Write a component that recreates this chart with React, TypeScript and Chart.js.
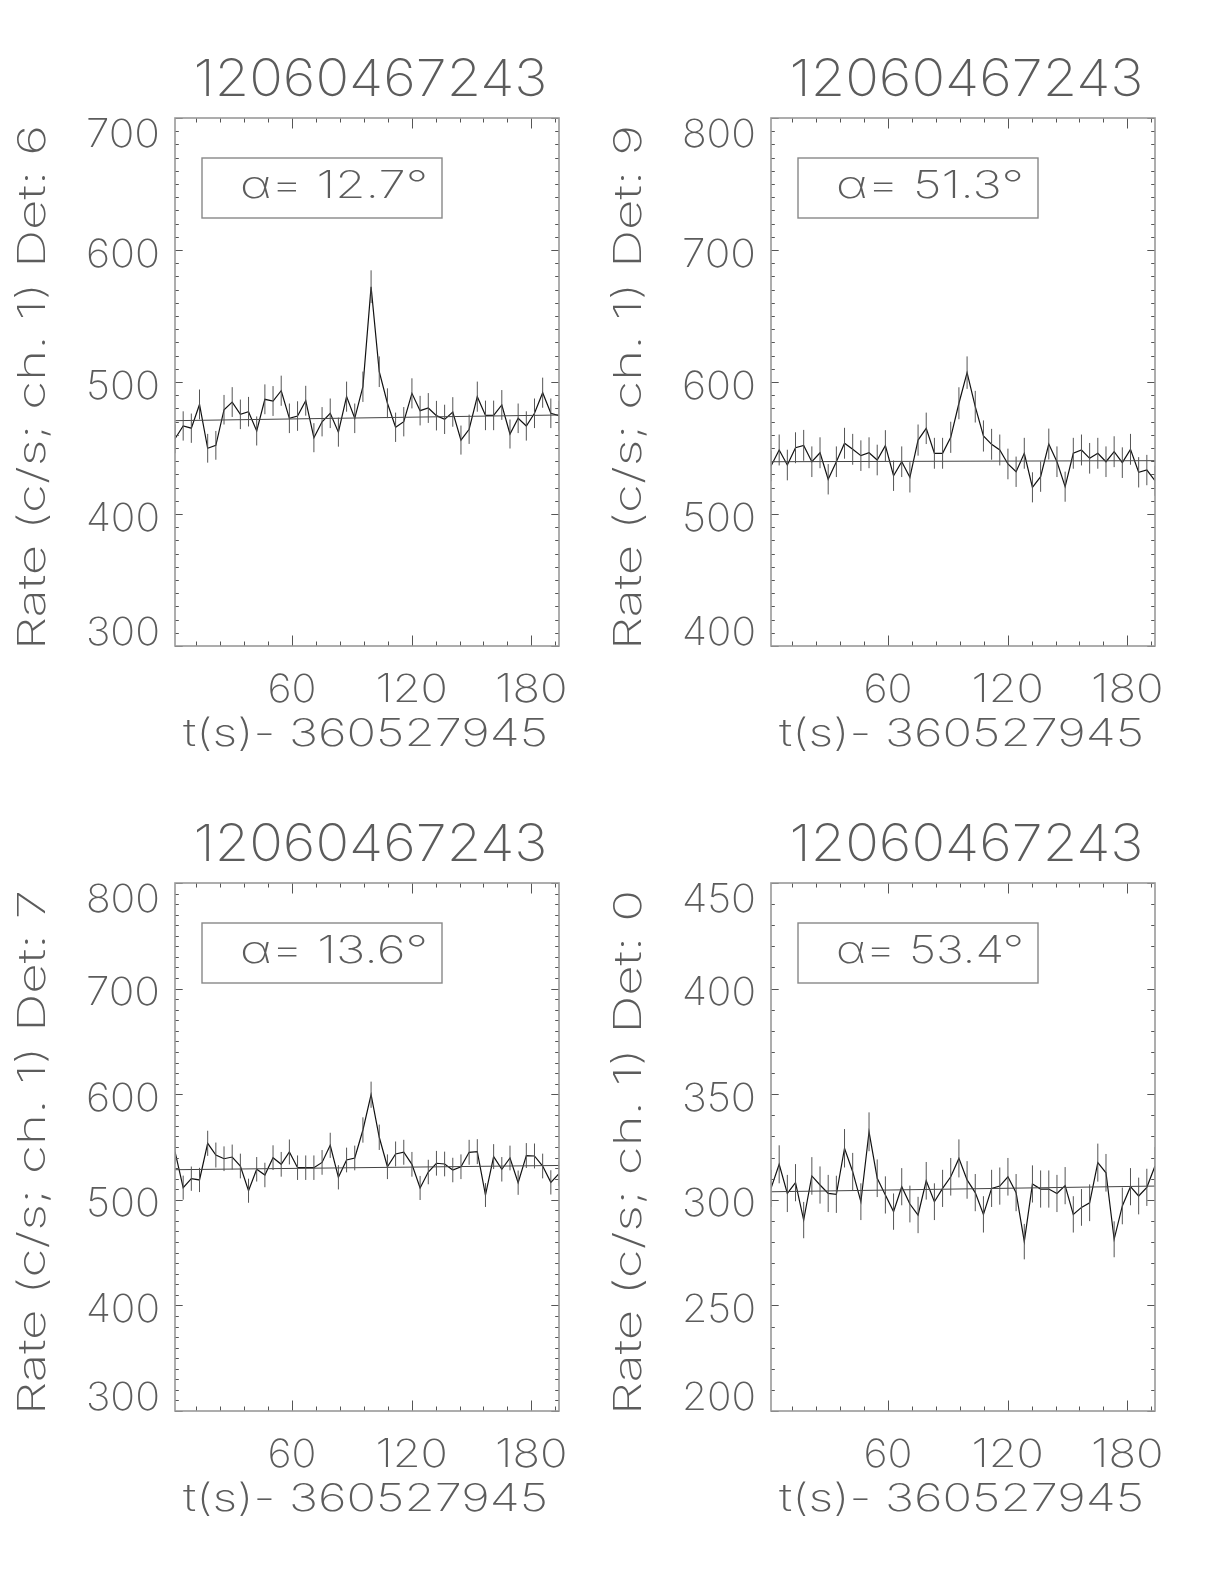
import React, { useEffect, useRef } from "react";
import { Chart, registerables } from "chart.js";

Chart.register(...registerables);

// ---------------- data ----------------
const TIMES = [
  1.35, 5.45, 9.54, 13.64, 17.73, 21.83, 25.93, 30.02, 34.12, 38.21, 42.31, 46.41,
  50.5, 54.6, 58.69, 62.79, 66.89, 70.98, 75.08, 79.17, 83.27, 87.37, 91.46, 95.56,
  99.65, 103.75, 107.85, 111.94, 116.04, 120.13, 124.23, 128.33, 132.42, 136.52, 140.61, 144.71,
  148.81, 152.9, 157.0, 161.09, 165.19, 169.29, 173.38, 177.48, 181.57, 185.67, 189.77, 193.86,
];
const TITLE = "12060467243";
const X_TITLE = "t(s)- 360527945";
const X_TICK_LABELS = [60, 120, 180];
const X_MINOR = 12;

const DET6_RATE = [
  457, 466.7, 465, 483, 449.8, 452, 479, 484.8, 475.5, 477.5, 462.9, 486.9,
  485.6, 493.4, 472.5, 474.2, 485.8, 457.8, 469.9, 476.3, 462, 488.9, 472.5, 496.4,
  572.2, 507.8, 483.9, 465.7, 469.9, 491.4, 478.3, 480.3, 474.5, 471.7, 477.3, 456,
  464.2, 488.9, 474.7, 474.7, 482.6, 460.6, 472.5, 466.7, 476.3, 491.9, 476.3, 474.5,
];
const DET6_ERR = [
  11.0, 11.1, 11.1, 11.3, 10.9, 10.9, 11.2, 11.3, 11.2, 11.2, 11.0, 11.3,
  11.3, 11.4, 11.2, 11.2, 11.3, 11.0, 11.1, 11.2, 11.0, 11.4, 11.2, 11.5,
  12.4, 11.6, 11.3, 11.1, 11.1, 11.4, 11.2, 11.3, 11.2, 11.1, 11.2, 11.0,
  11.1, 11.4, 11.2, 11.2, 11.3, 11.0, 11.2, 11.1, 11.2, 11.4, 11.2, 11.2,
];
const DET6_BG = [470.7, 475.0];
const DET6_Y_TICKS = [300, 400, 500, 600, 700];
const DET6_ALPHA = "\u03b1= 12.7\u00b0";
const DET6_Y_TITLE = "Rate (c/s; ch. 1) Det: 6";

const DET9_RATE = [
  536.4, 548.5, 537.1, 550.2, 552, 539.6, 546.4, 526.3, 539.6, 553.6, 549, 544.2,
  546.4, 540.9, 551.8, 529, 539.6, 527.8, 556, 564.9, 546, 546, 558.1, 583.9,
  607.1, 581.3, 559.1, 552.8, 548.5, 537.9, 532, 546, 520.2, 528.3, 553, 539.6,
  520.7, 546, 548.5, 542.2, 546, 539.6, 547.2, 538.9, 549, 531.6, 533.3, 525.2,
];
const DET9_ERR = [
  11.6, 11.7, 11.6, 11.7, 11.7, 11.6, 11.7, 11.5, 11.6, 11.7, 11.7, 11.6,
  11.7, 11.6, 11.7, 11.5, 11.6, 11.5, 11.8, 11.9, 11.7, 11.7, 11.8, 12.1,
  12.3, 12.0, 11.8, 11.7, 11.7, 11.6, 11.5, 11.7, 11.4, 11.5, 11.7, 11.6,
  11.4, 11.7, 11.7, 11.6, 11.7, 11.6, 11.7, 11.6, 11.7, 11.5, 11.5, 11.4,
];
const DET9_BG = [539.6, 540.4];
const DET9_Y_TICKS = [400, 500, 600, 700, 800];
const DET9_ALPHA = "\u03b1= 51.3\u00b0";
const DET9_Y_TITLE = "Rate (c/s; ch. 1) Det: 9";

const DET7_RATE = [
  545.6, 511.5, 520, 518.8, 553.5, 542.4, 538.9, 540.5, 532, 508.6, 528.9, 523.5,
  539.9, 533.6, 545.3, 530.4, 530.4, 530.4, 535.4, 551.6, 521.3, 537.7, 539.6, 566.1,
  599.5, 559.2, 531.3, 543.4, 545, 533.6, 511.2, 526.3, 534.6, 533.9, 528.2, 531.3,
  545, 545.6, 504.5, 540.9, 528.9, 539.6, 516.2, 541.9, 541.5, 532, 516.5, 524.7,
];
const DET7_ERR = [
  11.8, 11.4, 11.5, 11.5, 11.9, 11.8, 11.7, 11.8, 11.7, 11.4, 11.6, 11.6,
  11.7, 11.7, 11.8, 11.6, 11.6, 11.6, 11.7, 11.9, 11.5, 11.7, 11.7, 12.0,
  12.4, 12.0, 11.7, 11.8, 11.8, 11.7, 11.4, 11.6, 11.7, 11.7, 11.6, 11.7,
  11.8, 11.8, 11.3, 11.8, 11.6, 11.7, 11.5, 11.8, 11.8, 11.7, 11.5, 11.6,
];
const DET7_BG = [528.5, 532.5];
const DET7_Y_TICKS = [300, 400, 500, 600, 700, 800];
const DET7_ALPHA = "\u03b1= 13.6\u00b0";
const DET7_Y_TITLE = "Rate (c/s; ch. 1) Det: 7";

const DET0_RATE = [
  305.4, 316.8, 303, 308.1, 290.4, 311.3, 307, 303, 302.6, 324.4, 313.3, 299.1,
  332.2, 310.2, 302.3, 294.4, 306.2, 298, 292.8, 309, 299.1, 305.4, 310.9, 319.6,
  309.4, 303.4, 293.1, 305.4, 306.5, 310.9, 303.4, 280.2, 307.5, 305.1, 305.1, 303,
  306.7, 293.1, 296.4, 298.6, 317.6, 312.8, 281.3, 297.1, 306.2, 301.8, 305.9, 316,
];
const DET0_ERR = [
  8.8, 9.0, 8.8, 8.8, 8.6, 8.9, 8.8, 8.8, 8.8, 9.1, 8.9, 8.7,
  9.2, 8.9, 8.8, 8.6, 8.8, 8.7, 8.6, 8.9, 8.7, 8.8, 8.9, 9.0,
  8.9, 8.8, 8.6, 8.8, 8.8, 8.9, 8.8, 8.4, 8.8, 8.8, 8.8, 8.8,
  8.8, 8.6, 8.7, 8.7, 9.0, 8.9, 8.5, 8.7, 8.8, 8.7, 8.8, 9.0,
];
const DET0_BG = [303.8, 306.5];
const DET0_Y_TICKS = [200, 250, 300, 350, 400, 450];
const DET0_ALPHA = "\u03b1= 53.4\u00b0";
const DET0_Y_TITLE = "Rate (c/s; ch. 1) Det: 0";

// ---------------- layout / style ----------------
const FONT = '"Inter", "Noto Sans", "DejaVu Sans", sans-serif';
const FONT_WEIGHT = 200;
const TEXT_COLOR = "#5c5c5c";
const PLOT_LEFT = 175;
const PLOT_RIGHT = 559;
const PLOT_TOP = 118;
const PLOT_BOTTOM = 646;

type PanelCfg = {
  rate: number[];
  err: number[];
  bg: number[];
  yTicks: number[];
  yMinor: number;
  alpha: string;
  yTitle: string;
  left: number;
  top: number;
  w: number;
  h: number;
};

const PANELS: PanelCfg[] = [
  { rate: DET6_RATE, err: DET6_ERR, bg: DET6_BG, yTicks: DET6_Y_TICKS, yMinor: 10, alpha: DET6_ALPHA, yTitle: DET6_Y_TITLE, left: 0, top: 0, w: 596, h: 765 },
  { rate: DET9_RATE, err: DET9_ERR, bg: DET9_BG, yTicks: DET9_Y_TICKS, yMinor: 10, alpha: DET9_ALPHA, yTitle: DET9_Y_TITLE, left: 596, top: 0, w: 628, h: 765 },
  { rate: DET7_RATE, err: DET7_ERR, bg: DET7_BG, yTicks: DET7_Y_TICKS, yMinor: 10, alpha: DET7_ALPHA, yTitle: DET7_Y_TITLE, left: 0, top: 765, w: 596, h: 819 },
  { rate: DET0_RATE, err: DET0_ERR, bg: DET0_BG, yTicks: DET0_Y_TICKS, yMinor: 10, alpha: DET0_ALPHA, yTitle: DET0_Y_TITLE, left: 596, top: 765, w: 628, h: 819 },
];

function drawText(
  ctx: CanvasRenderingContext2D,
  s: string,
  x: number,
  baseline: number,
  size: number,
  targetW: number | null,
  align: "left" | "center" | "right"
) {
  ctx.save();
  ctx.font = `${FONT_WEIGHT} ${size}px ${FONT}`;
  ctx.fillStyle = TEXT_COLOR;
  ctx.textAlign = "left";
  ctx.textBaseline = "alphabetic";
  const w = ctx.measureText(s).width;
  const sx = targetW ? targetW / w : 1;
  const W = w * sx;
  const left = align === "left" ? x : align === "center" ? x - W / 2 : x - W;
  ctx.translate(left, baseline);
  ctx.scale(sx, 1);
  ctx.fillText(s, 0, 0);
  ctx.restore();
}

const idlPlugin = {
  id: "idlFrame",
  afterDraw(chart: any, _args: any, opts: any) {
    const ctx: CanvasRenderingContext2D = chart.ctx;
    const ca = chart.chartArea;
    const xs = chart.scales.x;
    const ys = chart.scales.y;
    ctx.save();

    // ticks on all four sides, pointing inward
    ctx.strokeStyle = "#555";
    ctx.lineWidth = 1;
    ctx.beginPath();
    const xMajor = X_TICK_LABELS[1] - X_TICK_LABELS[0];
    for (let v = Math.ceil(xs.min / X_MINOR) * X_MINOR; v <= xs.max; v += X_MINOR) {
      const px = Math.round(xs.getPixelForValue(v)) + 0.5;
      const len = v % xMajor === 0 ? 10.5 : 4.5;
      ctx.moveTo(px, ca.bottom);
      ctx.lineTo(px, ca.bottom - len);
      ctx.moveTo(px, ca.top);
      ctx.lineTo(px, ca.top + len);
    }
    const yTicks: number[] = opts.yTicks;
    for (let v = ys.min; v <= ys.max + 1e-6; v += opts.yMinor) {
      const py = Math.round(ys.getPixelForValue(v)) + 0.5;
      const major = yTicks.some((t) => Math.abs(t - v) < 1e-6);
      const len = major ? 7.7 : 3.8;
      ctx.moveTo(ca.left, py);
      ctx.lineTo(ca.left + len, py);
      ctx.moveTo(ca.right, py);
      ctx.lineTo(ca.right - len, py);
    }
    ctx.stroke();

    // frame
    ctx.strokeStyle = "#999";
    ctx.lineWidth = 1.6;
    ctx.strokeRect(ca.left, ca.top, ca.right - ca.left, ca.bottom - ca.top);

    // x tick labels
    for (const v of X_TICK_LABELS) {
      const s = String(v);
      const px = xs.getPixelForValue(v);
      drawText(ctx, s, px, ca.bottom + 56, 39, s.length * 23.5 + 2, "center");
    }
    // y tick labels (IDL style: end labels kept inside the axis extent)
    for (const v of yTicks) {
      const s = String(v);
      const py = ys.getPixelForValue(v);
      let c = py + 2.5;
      c = Math.max(c, ca.top + 15);
      c = Math.min(c, ca.bottom - 15);
      drawText(ctx, s, ca.left - 15, c + 14, 39, s.length * 24.7, "right");
    }

    // title
    drawText(ctx, TITLE, (ca.left + ca.right) / 2 + 3.5, ca.top - 22, 51, 354, "center");
    // x axis title
    drawText(ctx, X_TITLE, ca.left + 8, ca.bottom + 100, 38, 365, "left");
    // y axis title, rotated
    ctx.save();
    ctx.translate(ca.left - 130, (ca.top + ca.bottom) / 2 + 5.5);
    ctx.rotate(-Math.PI / 2);
    drawText(ctx, opts.yTitle, 0, 0, 38, 525, "center");
    ctx.restore();

    // alpha box
    ctx.strokeStyle = "#888";
    ctx.lineWidth = 1.4;
    ctx.strokeRect(ca.left + 27, ca.top + 40, 240, 60);
    drawText(ctx, opts.alpha, ca.left + 65, ca.top + 80, 38, 188, "left");

    ctx.restore();
  },
};

function Panel({ cfg }: { cfg: PanelCfg }) {
  const ref = useRef<HTMLCanvasElement>(null);
  useEffect(() => {
    const canvas = ref.current;
    if (!canvas) return;
    const pts = TIMES.map((t, i) => ({ x: t, y: cfg.rate[i] }));
    const errPts: { x: number; y: number | null }[] = [];
    TIMES.forEach((t, i) => {
      errPts.push({ x: t, y: cfg.rate[i] - cfg.err[i] });
      errPts.push({ x: t, y: cfg.rate[i] + cfg.err[i] });
      errPts.push({ x: t, y: null });
    });
    const bgPts = [
      { x: TIMES[0], y: cfg.bg[0] },
      { x: TIMES[TIMES.length - 1], y: cfg.bg[1] },
    ];
    const yMin = cfg.yTicks[0];
    const yMax = cfg.yTicks[cfg.yTicks.length - 1];
    const chart = new Chart(canvas, {
      type: "line",
      data: {
        datasets: [
          { data: errPts as any, borderColor: "#555", borderWidth: 1, pointRadius: 0, spanGaps: false, tension: 0 },
          { data: bgPts as any, borderColor: "#444", borderWidth: 1, pointRadius: 0, tension: 0 },
          { data: pts as any, borderColor: "#111", borderWidth: 1.2, pointRadius: 0, tension: 0 },
        ],
      },
      options: {
        animation: false,
        responsive: false,
        devicePixelRatio: 1,
        events: [],
        layout: {
          padding: {
            left: PLOT_LEFT,
            right: cfg.w - PLOT_RIGHT,
            top: PLOT_TOP,
            bottom: cfg.h - PLOT_BOTTOM,
          },
        },
        scales: {
          x: { type: "linear", min: TIMES[0], max: TIMES[TIMES.length - 1], display: false },
          y: { type: "linear", min: yMin, max: yMax, display: false },
        },
        plugins: {
          legend: { display: false },
          tooltip: { enabled: false },
          title: { display: false },
          idlFrame: { yTicks: cfg.yTicks, yMinor: cfg.yMinor, alpha: cfg.alpha, yTitle: cfg.yTitle },
        } as any,
      },
      plugins: [idlPlugin],
    });
    return () => chart.destroy();
  }, [cfg]);
  return (
    <canvas
      ref={ref}
      width={cfg.w}
      height={cfg.h}
      style={{ position: "absolute", left: cfg.left, top: cfg.top, width: cfg.w, height: cfg.h }}
    />
  );
}

export default function App() {
  return (
    <div style={{ position: "absolute", left: 0, top: 0, width: 1224, height: 1584, background: "#fff", overflow: "hidden" }}>
      {PANELS.map((p, i) => (
        <Panel key={i} cfg={p} />
      ))}
    </div>
  );
}
